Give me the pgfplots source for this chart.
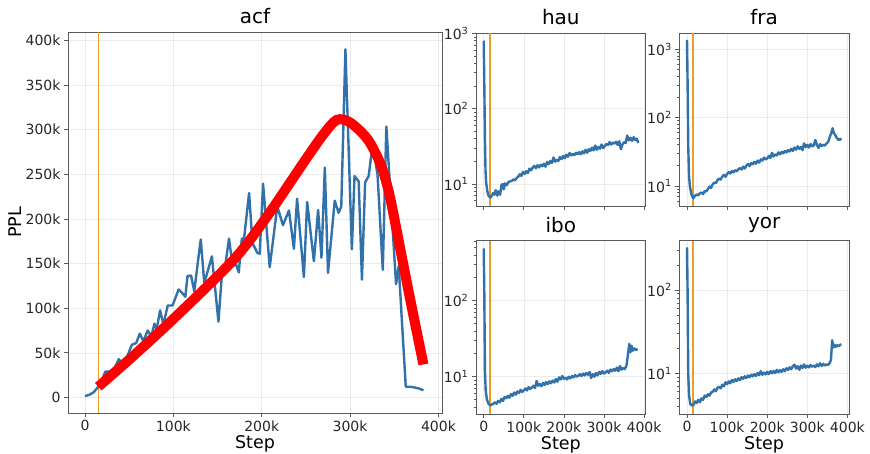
\documentclass[border=0pt]{standalone}
\usepackage{fontspec}
\setmainfont{DejaVu Sans}
\usepackage{pgfplots}
\pgfplotsset{compat=1.18}
\definecolor{mblue}{RGB}{49,114,170}
\definecolor{morange}{RGB}{233,158,40}
\definecolor{spine}{RGB}{90,90,90}
\definecolor{gridc}{RGB}{235,235,235}
\newcommand{\tk}{\fontsize{14}{16}\selectfont}
\newcommand{\lb}{\fontsize{17.5}{19}\selectfont}
\newcommand{\ttl}{\fontsize{20}{22}\selectfont}
\pgfplotsset{
  myBase/.style={
    scale only axis,
    anchor=south west,
    axis line style={draw=spine, line width=0.8pt},
    tick style={draw=spine, line width=0.8pt},
    tick align=outside,
    tick pos=left,
    major tick length=4pt,
    minor tick length=2.3pt,
    grid=major,
    major grid style={draw=gridc, line width=0.6pt},
    ticklabel style={font=\tk, text=black!85},
    title style={font=\ttl, at={(0.5,1)}, anchor=south, yshift=0pt, inner sep=2pt},
    label style={font=\lb},
    xmin=-19.25, xmax=404,
    xtick={0,100,200,300,400},
  },
  mySmall/.style={myBase, width=169.7pt, height=173pt,
    log basis y=10,
    ytick={1,10,100,1000},
    yticklabels={10\textsuperscript{0},10\textsuperscript{1},10\textsuperscript{2},10\textsuperscript{3}},
    minor ytick={2,3,4,5,6,7,8,9,20,30,40,50,60,70,80,90,200,300,400,500,600,700,800,900,2000},
  },
  blueline/.style={mblue, line width=2.4pt, line join=round},
  orangeline/.style={morange, line width=1.4pt},
}
\begin{document}
\begin{tikzpicture}[x=1pt,y=1pt]
\path[use as bounding box] (0,0) rectangle (870,454);
% ---------- main: acf ----------
\begin{axis}[myBase,
  at={(68pt,41pt)}, width=374pt, height=381pt,
  ymin=-17.4, ymax=409.4,
  ytick={0,50,100,150,200,250,300,350,400},
  yticklabels={0,50k,100k,150k,200k,250k,300k,350k,400k},
  xticklabels={0,100k,200k,300k,400k},
  title={acf}, xlabel={Step}, ylabel={PPL},
  xlabel style={at={(0.5,0)}, anchor=north, yshift=-19pt},
  ylabel style={at={(axis description cs:-0.142,0.5)}, anchor=center},
]
\addplot[orangeline] coordinates {(15,-17.4) (15,409.4)};
\addplot[blueline] coordinates {
(0,1.5) (5,3) (10,6) (15,12) (18.5,18) (23,29) (29,29) (33.5,33) (38.3,43) (42,37)
(47,44) (53,59) (58,61) (62,71.5) (66,63) (71,75) (75,68.5) (78.6,82.7) (81,76) (85,97.6)
(88.7,81.6) (93.6,103) (99,103) (106,121) (111,116) (113.5,112.7) (116,136) (120,136.6) (123.7,119) (127.5,150)
(131,177) (135,128) (143.6,158) (151,85) (155.6,147) (159,150) (163,178) (167,147) (171,149) (174,140)
(177.5,178) (180,178) (185.7,229) (189.5,173) (195,162) (197.7,161) (201.5,239.5) (209,146) (217.6,214) (224,193)
(230.8,209.5) (236.4,166.5) (240,222.7) (247.7,135) (251.4,219) (259,152.6) (263.8,210) (267.6,156.5) (271.4,257.5) (275,139.6)
(282.6,220.5) (287,207) (290,214) (294.7,390) (302,166) (305,248) (309.7,242) (313.4,132) (317,241) (321,248)
(325.5,283) (331,250) (337,143) (341,303.5) (352,127) (355,147) (363,12) (368,12) (373.6,11) (378,10) (383,8)
};
\addplot[red, line width=10pt, smooth, line cap=butt] coordinates {
(15,12) (54,46) (100,88) (167,153) (204,200) (250,267) (270,295) (285,311) (300,308) (320,289) (335,260) (345,225) (358,160) (370,100) (383,37)
};
\end{axis}
% ---------- hau ----------
\begin{semilogyaxis}[mySmall, at={(476pt,248pt)}, ymin=5.1, ymax=1017, xticklabels={}, title={hau}]
\addplot[orangeline] coordinates {(16,5.1) (16,1017)};
\addplot[blueline] coordinates {
(0,807) (1.5,200) (3,40) (4.5,15) (6,10.5) (9,8) (12,7) (16,6.6) (20,7.0) (24,7.6) (27,7.2) (30,8.3) (34,7.0) (37,8.0) (41,7.2)
(44,9.6) (47,10.0) (50,8.5) (53,10.2) (57,9.6) (61,10.5) (65,10.8) (70,11.0) (74,11.5) (78,11.2) (82,12.0) (86,12.5)
(90,13.5) (94,12.8) (98,14.5) (102,13.6) (106,14.8) (110,14.0) (114,16.0) (118,15.2) (122,16.5) (126,17.4) (130,16.2)
(134,17.8) (138,16.6) (142,18.0) (146,17.2) (150,18.6) (154,17.0) (158,19.6) (162,18.4) (166,20.2) (170,19.0) (174,22.5)
(178,19.8) (182,21.0) (186,20.2) (190,22.8) (194,21.4) (198,23.6) (202,22.0) (206,24.5) (210,23.0) (214,25.8) (218,24.0)
(222,25.0) (226,24.2) (230,26.0) (234,25.0) (238,26.5) (242,24.8) (246,27.2) (250,25.5) (254,28.5) (258,26.0) (262,29.0)
(266,27.5) (270,30.5) (274,28.0) (278,32.5) (282,28.5) (286,31.0) (290,29.5) (294,33.5) (298,30.0) (302,32.0) (306,34.0)
(310,33.0) (314,36.0) (318,33.5) (322,35.5) (326,34.5) (330,36.5) (334,33.0) (338,37.0) (342,29.0) (346,33.5) (350,36.0)
(354,35.0) (358,44.0) (362,38.0) (366,41.0) (370,37.5) (374,42.0) (378,38.5) (382,40.0) (385,35.0)
};
\end{semilogyaxis}
% ---------- fra ----------
\begin{semilogyaxis}[mySmall, at={(679.3pt,248pt)}, ymin=5.09, ymax=1733, xticklabels={}, title={fra}]
\addplot[orangeline] coordinates {(15,5.09) (15,1733)};
\addplot[blueline] coordinates {
(0,1370) (1.5,300) (3,40) (5,14) (7,10) (10,8) (13,7.0) (16,6.6) (20,7.2) (24,7.5) (28,7.3) (32,7.8) (36,8.0) (40,7.6) (44,8.4)
(48,8.3) (52,9.0) (56,9.8) (60,9.4) (64,10.6) (68,11.2) (72,11.0) (76,12.2) (80,12.8) (84,12.4) (88,13.8) (92,14.5)
(96,13.6) (100,15.0) (104,16.0) (108,15.2) (112,16.5) (116,15.8) (120,17.0) (124,16.4) (128,17.6) (132,18.2) (136,17.4)
(140,19.2) (144,18.0) (148,19.8) (152,21.0) (156,19.5) (160,21.6) (164,20.8) (168,22.5) (172,21.2) (176,23.5) (180,22.0)
(184,24.5) (188,23.5) (192,26.0) (196,24.5) (200,25.2) (204,27.5) (208,25.6) (212,30.5) (216,27.0) (220,29.0) (224,28.0)
(228,31.0) (232,29.0) (236,31.5) (240,30.0) (244,32.5) (248,31.0) (252,33.5) (256,32.0) (260,35.0) (264,32.5) (268,36.5)
(272,34.0) (276,38.0) (280,35.0) (284,37.0) (288,33.5) (292,42.0) (296,37.0) (300,40.0) (304,36.5) (308,41.0) (312,38.0)
(316,39.0) (320,47.0) (324,40.0) (328,36.0) (332,41.0) (336,38.5) (340,40.0) (344,39.0) (348,42.0) (352,44.0) (356,52.0)
(360,60.0) (363,70.0) (366,60.0) (370,55.0) (374,50.0) (378,47.0) (382,49.0) (385,47.0)
};
\end{semilogyaxis}
% ---------- ibo ----------
\begin{semilogyaxis}[mySmall, at={(476pt,40pt)}, height=173.3pt, ymin=3.23, ymax=616,
  xticklabels={0,100k,200k,300k,400k}, title={ibo}, xlabel={Step},
  xlabel style={at={(0.5,0)}, anchor=north, yshift=-19pt}]
\addplot[orangeline] coordinates {(16,3.23) (16,616)};
\addplot[blueline] coordinates {
(0,489) (1.5,120) (3,12) (5,6.5) (8,5.0) (12,4.4) (16,4.2) (20,4.3) (24,4.4) (28,4.6) (32,4.4) (36,4.8) (40,4.6) (44,5.1) (48,4.8)
(52,5.4) (56,5.2) (60,5.6) (64,5.3) (68,5.9) (72,5.6) (76,6.2) (80,5.8) (84,6.4) (88,6.1) (92,6.7) (96,6.3) (100,6.6)
(104,7.0) (108,6.6) (112,7.3) (116,6.9) (120,7.2) (124,7.6) (128,7.1) (132,8.8) (136,7.6) (140,8.0) (144,7.5) (148,8.3)
(152,7.8) (156,8.5) (160,8.0) (164,8.7) (168,8.2) (172,8.9) (176,8.4) (180,9.3) (184,8.6) (188,9.8) (192,9.2) (196,10.2)
(200,9.4) (204,9.7) (208,9.2) (212,10.0) (216,9.5) (220,10.2) (224,9.8) (228,10.5) (232,10.0) (236,10.3) (240,10.8)
(244,10.2) (248,11.0) (252,10.4) (256,11.2) (260,10.6) (264,11.5) (268,9.6) (272,10.8) (276,10.0) (280,11.2) (284,10.4)
(288,11.6) (292,10.9) (296,11.8) (300,11.0) (304,11.4) (308,12.0) (312,11.2) (316,12.4) (320,11.8) (324,12.6) (328,12.0)
(332,13.2) (336,11.8) (340,13.8) (344,12.4) (348,13.0) (352,12.6) (356,14.0) (360,20.0) (363,27.0) (366,21.0) (369,25.5)
(372,22.0) (376,23.5) (380,22.5) (384,23.0)
};
\end{semilogyaxis}
% ---------- yor ----------
\begin{semilogyaxis}[mySmall, at={(679.3pt,40pt)}, height=173.3pt, ymin=3.25, ymax=391,
  xticklabels={0,100k,200k,300k,400k}, title={yor}, xlabel={Step},
  xlabel style={at={(0.5,0)}, anchor=north, yshift=-19pt}]
\addplot[orangeline] coordinates {(15,3.25) (15,391)};
\addplot[blueline] coordinates {
(0,325) (1.5,90) (3,10) (5,5.5) (8,4.3) (12,4.1) (16,4.2) (20,4.6) (24,4.4) (28,4.8) (32,4.5) (36,5.0) (40,4.8) (44,5.4) (48,5.2)
(52,5.6) (56,5.4) (60,5.9) (64,6.0) (68,6.4) (72,6.1) (76,6.7) (80,6.9) (84,6.6) (88,7.3) (92,7.0) (96,7.8) (100,7.4)
(104,8.0) (108,7.6) (112,8.3) (116,7.9) (120,8.5) (124,8.1) (128,8.7) (132,8.3) (136,9.0) (140,8.6) (144,9.2) (148,8.8)
(152,9.4) (156,9.0) (160,9.6) (164,9.2) (168,9.8) (172,9.3) (176,10.1) (180,9.5) (184,10.6) (188,9.6) (192,10.2) (196,9.7)
(200,10.4) (204,9.8) (208,10.6) (212,10.0) (216,10.7) (220,10.1) (224,11.0) (228,10.3) (232,10.9) (236,10.4) (240,11.2)
(244,10.6) (248,11.5) (252,11.0) (256,11.8) (260,11.2) (264,12.2) (268,12.7) (272,11.4) (276,12.2) (280,11.0) (284,12.4)
(288,11.6) (292,12.8) (296,11.7) (300,12.3) (304,11.8) (308,12.6) (312,12.0) (316,12.4) (320,11.9) (324,12.8) (328,12.2)
(332,13.2) (336,12.3) (340,13.0) (344,12.4) (348,12.8) (352,12.6) (356,13.4) (359,14.5) (362,25.0) (365,20.5) (368,22.0)
(371,20.8) (374,21.8) (378,21.2) (382,22.0) (385,22.3)
};
\end{semilogyaxis}
\end{tikzpicture}
\end{document}
